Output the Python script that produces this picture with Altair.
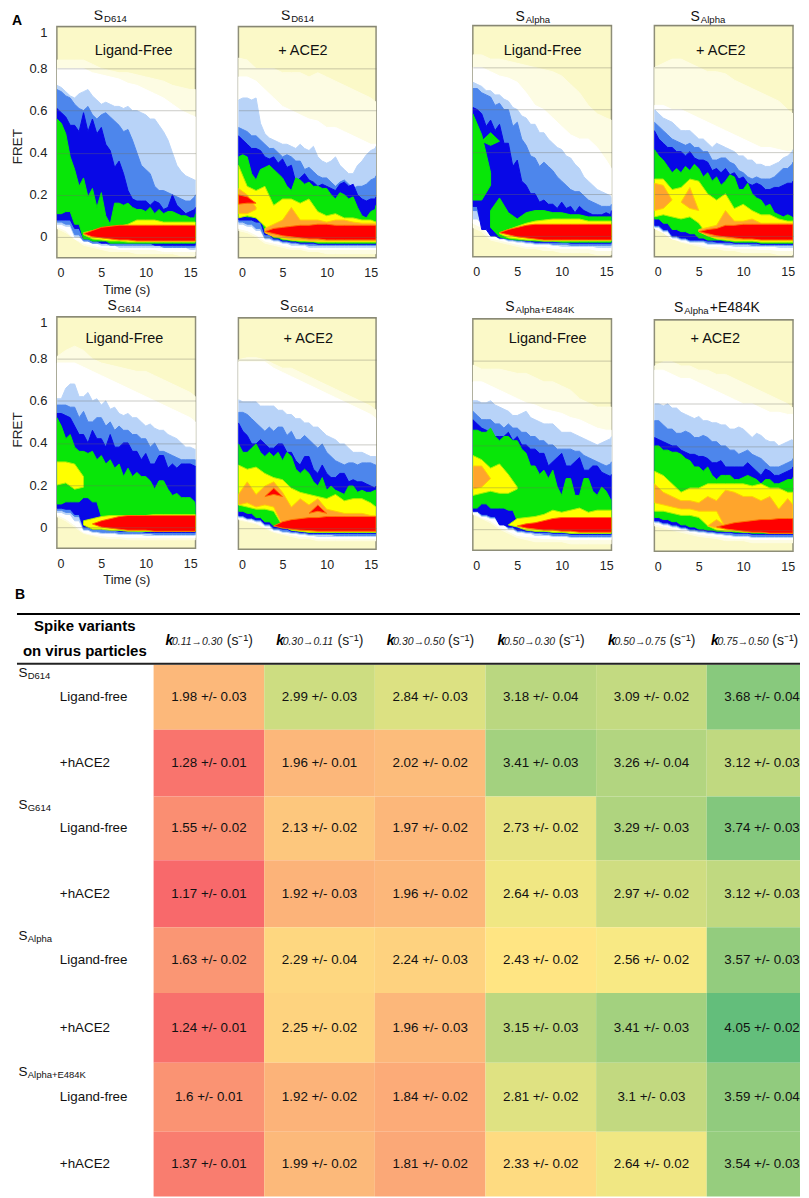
import altair as alt
import pandas as pd

FONT = "Liberation Sans"
T = [0, 1, 2, 3, 4, 5, 6, 7, 8, 9, 10, 11, 12, 13, 14, 15, 15.6]
T2 = [i / 2 for i in range(32)] + [15.6]
LEVELS = ["ivory", "white", "lblue", "mblue", "dblue", "green", "yellow", "orange", "red"]
FILLS = ["#fdfce3", "#ffffff", "#b8d3f8", "#4d86ec", "#0808e6", "#08e608", "#ffff00", "#ffa52c", "#ff0000"]
EDGES = ["#fdfce3", "#ffffff", "#b8d3f8", "#4d86ec", "#0808e6", "#08e608", "#a8f000", "#ffd000", "#ff7000"]

# Contour edges in FRET hundredths: (level, first knot index, upper edge, lower edge)
# Upper edges with 33 values are read every half second.
P1 = [
 ("ivory",0,[84,84,84,84,82,80,79,78,78,77,76,75,74,72,71,70,70],[4,2,-1,-4,-5,-6,-7,-7,-7,-8,-8,-8,-8,-8,-9,-9,-9]),
 ("white",0,[80,80,80,80,78,77,76,75,73,72,70,68,66,63,60,58,57],[5,3,-1,-3,-4,-5,-5,-6,-6,-6,-6,-6,-7,-7,-7,-7,-7]),
 ("lblue",0,[72,71,69,67,66,68,69,70,67,65,63,64,63,62,62,61,62,60,60,59,58,56,56,53,50,46,40,34,31,29,28,27,27],[6,5,0,-2,-3,-4,-4,-5,-5,-5,-5,-5,-5,-5,-5,-6,-6]),
 ("mblue",0,[70,69,67,66,63,61,60,62,58,56,58,59,57,55,53,50,51,46,40,34,32,30,24,22,22,21,20,19,18,17,17,19,20],[7,6,1,-2,-3,-3,-4,-4,-4,-4,-4,-4,-5,-5,-5,-5,-5]),
 ("dblue",0,[61,59,57,53,53,50,59,50,56,49,52,44,41,33,36,30,22,18,17,17,17,15,17,16,13,14,20,15,13,11,12,13,14],[8,8,4,-1,-2,-3,-3,-3,-3,-3,-3,-4,-4,-4,-4,-4,-4]),
 ("green",0,[56,54,49,38,32,24,28,19,23,14,21,10,6,16,16,15,16,14,13,13,12,14,11,13,11,12,12,11,10,10,9,9,11],[11,12,6,-1,-2,-2,-3,-3,-3,-3,-3,-3,-3,-3,-3,-3,-3]),
 ("yellow",3,[2,3,4,5,5,6,8,8,8,7,7,7,7,7],[1,-1,-1.5,-2,-2,-2.5,-2.5,-2.5,-2.5,-2.5,-2.5,-2.5,-2.5,-2.5]),
 ("red",3,[1.5,3,4.5,5,5.5,5.5,5.5,5.5,5.5,5.5,5.5,5.5,5.5,5.5],[1.5,0,-.5,-1,-1.5,-1.5,-2,-2,-2,-2,-2,-2,-2,-2]),
]
P2 = [
 ("ivory",0,[85,84,80,80,80,78,78,78,76,78,76,74,72,70,68,66,64],[3,2,0,-3,-4,-5,-6,-6,-7,-7,-8,-8,-8,-8,-8,-8,-8]),
 ("white",0,[76,76,74,70,66,62,60,58,56,55,52,52,50,48,46,44,44],[4,3,1,-2,-3,-4,-5,-5,-6,-6,-6,-6,-6,-6,-6,-6,-6]),
 ("lblue",0,[65,66,66,65,66,54,49,47,46,45,44,44,43,42,44,42,41,43,38,36,35,36,38,34,32,30,30,34,36,39,41,42,43],[6,5,3,-1,-2,-3,-4,-4,-5,-5,-5,-5,-5,-5,-5,-5,-5]),
 ("mblue",0,[52,51,50,48,48,46,44,42,42,40,38,39,38,36,36,32,33,31,29,28,28,26,24,26,27,25,23,24,24,25,27,28,29],[7,6,4,-.5,-1.5,-2.5,-3,-3.5,-4,-4,-4,-4,-4,-4,-4,-4,-4]),
 ("dblue",0,[48,46,44,42,42,41,38,37,38,35,37,33,34,26,28,30,27,26,24,25,24,23,22,25,26,24,25,20,18,17,18,18,19],[8,8,7,1,-1,-2,-2.5,-3,-3,-3.5,-3.5,-3.5,-3.5,-3.5,-3.5,-3.5,-3.5]),
 ("green",0,[38,39,38,30,27,32,33,34,32,30,28,24,22,28,27,25,26,24,24,23,23,20,18,21,20,18,19,14,10,9,12,13,15],[10,9.5,9,3,-.5,-1.5,-2,-2.5,-2.5,-3,-3,-3,-3,-3,-3,-3,-3]),
 ("yellow",0,[34,24,22,24,15,18,18,16,18,12,10,11,9,9,8,8,7],[9,10,9,5,1,-1,-1.5,-2,-2,-2.5,-2.5,-2.5,-2.5,-2.5,-2.5,-2.5,-2.5]),
 ("orange",0,[23,20,14],[11,11,13]),
 ("orange",3,[4,6,8,14,8,8,8,7,8,8,7,6.5,6.5,6.5],[2,0,-.5,-1.5,-1.5,-2,-2,-2,-2,-2,-2,-2,-2,-2]),
 ("red",0,[20,19,16],[15.5,16,16]),
 ("red",3,[2.5,4,4.5,5,5.5,5.5,6,6,5.5,5.5,5.5,5.5,5.5,5.5],[2.5,1.5,.5,0,-.5,-1,-1,-1.5,-1.5,-1.5,-1.5,-1.5,-1.5,-1.5]),
]
P3 = [
 ("ivory",0,[86,86,84,84,83,82,81,80,79,78,76,72,68,62,58,56,55],[4,2,-2,-3,-4,-5,-6,-6,-7,-7,-8,-8,-8,-8,-9,-9,-9]),
 ("white",0,[80,80,78,76,75,73,68,62,60,56,52,48,46,46,42,36,32],[6,4,-1,-2,-3,-4,-5,-5,-5,-6,-6,-6,-6,-6,-7,-7,-7]),
 ("lblue",0,[73,72,71,69,69,67,67,65,64,61,60,57,56,53,53,49,49,46,44,42,41,38,37,34,32,28,26,24,22,21,20,19,18],[8,6,0,-1.5,-2.5,-3,-3.5,-4,-4,-4.5,-5,-5,-5,-5,-5.5,-5.5,-5.5]),
 ("mblue",0,[70,70,68,67,66,62,63,60,60,52,54,46,43,38,37,33,35,33,31,28,26,24,22,21,21,19,17,16,15,14,14,14,15],[12,5,0,-1.2,-2,-2.5,-3,-3.5,-3.5,-4,-4,-4.5,-4.5,-4.5,-4.5,-4.5,-4.5]),
 ("dblue",0,[61,60,58,52,55,50,53,44,44,33,36,26,24,20,20,16,17,15,15,13,16,13,14,11,14,12,11,10,10,10,11,10,12],[14,3,0,-1,-1.5,-2,-2.5,-3,-3,-3,-3,-3.5,-3.5,-3.5,-3.5,-3.5,-3.5]),
 ("green",0,[58,48,30],[17,17,24]),
 ("green",1,[45,49,45],[45,43,45]),
 ("green",2,[12,18,11,8,11,12,12,11,11,10,10,9,9,9,9],[4,-.5,-1.5,-2,-2,-2.5,-2.5,-2.5,-3,-3,-3,-3,-3,-3,-3]),
 ("yellow",3,[1.5,3,4.5,6,7,7.5,8,8,8,8,7,7,7,7],[1,-1,-1.5,-2,-2,-2.5,-2.5,-2.5,-2.5,-2.5,-2.5,-2.5,-2.5,-2.5]),
 ("red",3,[1.5,3,4,5,5.5,5.5,5.5,5.5,5.5,5.5,5.5,5.5,5.5,5.5],[1.5,.5,-.5,-1,-1.5,-2,-2,-2,-2,-2,-2,-2,-2,-2]),
]
P4 = [
 ("ivory",0,[80,82,84,84,82,80,78,78,77,74,72,70,68,66,64,60,58],[4,2,-1,-3,-4,-5,-6,-6,-7,-7,-8,-8,-8,-8,-9,-9,-9]),
 ("white",0,[62,62,60,60,58,56,54,52,50,48,46,44,42,42,41,40,40],[3.5,1.5,-1.5,-2.5,-3.5,-4,-5,-5,-5.5,-6,-6,-6,-6.5,-6.5,-7,-7,-7]),
 ("lblue",0,[60,58,56,55,54,52,50,50,50,48,46,46,44,42,44,43,42,41,40,38,38,36,36,34,34,33,33,34,35,37,38,40,41],[4,2,-1,-2,-3,-3,-4,-4,-4.5,-5,-5,-5,-5,-5,-5.5,-5.5,-5.5]),
 ("mblue",0,[54,52,50,48,46,45,44,43,44,42,42,40,40,36,36,37,37,35,34,31,30,28,27,28,27,27,27,28,30,32,32,34,35],[4.5,2.5,-.5,-1.5,-2.5,-2.5,-3.5,-3.5,-4,-4,-4,-4.5,-4.5,-4.5,-4.5,-4.5,-4.5]),
 ("dblue",0,[50,46,44,42,42,40,40,38,40,37,36,36,35,31,32,30,32,29,30,27,28,25,24,25,24,22,22,23,23,24,25,25,26],[5,3,0,-1,-2,-2,-2.5,-3,-3,-3.5,-3.5,-3.5,-4,-4,-4,-4,-4]),
 ("green",0,[41,38,36,33,30,32,30,33,31,34,32,28,30,26,28,24,26,29,28,22,22,25,20,18,17,14,15,11,10,9,10,9,8],[8,6,3,2,1,-1,-2,-2,-2.5,-3,-3,-3,-3.5,-3.5,-3.5,-3.5,-3.5]),
 ("yellow",0,[27,27,22,23,27,26,20,17,20,13,15,12,10,10,8,7,7],[9,10,9,8,9,6,0,-1.5,-2,-2.5,-2.5,-2.5,-3,-3,-3,-3,-3]),
 ("orange",0,[25,24,17],[12,13,17]),
 ("orange",3,[16,23,12],[16,13,12]),
 ("orange",5,[3,4,5,12,7,7,8,6,6,6,6,6],[2,0,-1,-1.5,-2,-2,-2,-2,-2,-2,-2,-2]),
 ("red",5,[2,3,3.5,5,5,5.5,5.5,5.5,5.5,5.5,5.5,5.5],[2,1,0,-.5,-1,-1.5,-1.5,-2,-2,-2,-2,-2]),
]
P5 = [
 ("ivory",0,[81,84,86,84,80,78,77,76,75,74,74,72,70,68,66,64,62],[5,3,0,-3,-4,-5,-5.5,-5.5,-6,-6,-6,-6,-6,-6,-6,-6,-6]),
 ("white",0,[78,78,78,76,74,72,70,68,66,64,62,60,58,56,54,52,50],[6,4,1,-2.5,-3.5,-4,-4.5,-4.5,-5,-5,-5,-5,-5,-5,-5,-5,-5]),
 ("lblue",0,[61,61,66,68,68,62,62,64,60,61,58,60,56,57,54,53,54,52,52,50,48,49,47,46,46,44,43,42,40,38,38,37,37],[7,6,3,-1.5,-2.5,-3,-3,-3.5,-3.5,-3.5,-4,-4,-4,-4,-4,-4,-4]),
 ("mblue",0,[58,58,58,57,57,52,55,50,50,52,52,48,50,46,48,46,46,44,44,42,42,38,40,36,36,35,34,33,32,32,32,32,32],[8,7,5,-1,-2,-2.5,-2.5,-3,-3,-3,-3,-3.5,-3.5,-3.5,-3.5,-3.5,-3.5]),
 ("dblue",0,[54,54,53,52,48,44,44,40,46,42,42,38,44,38,38,40,40,36,36,32,35,30,30,34,34,28,30,28,30,30,30,29,29],[9,8.5,6,0,-1,-1,-1.5,-2,-2,-2,-2.5,-2.5,-2.5,-2.5,-2.5,-2.5,-2.5]),
 ("green",0,[52,48,42,44,38,36,36,35,36,32,34,30,32,28,30,24,28,24,26,24,24,22,18,22,22,18,15,16,14,14,14,12,10],[11,12,12,14,12,5,-1,-1.5,-1.5,-2,-2,-2,-2,-2,-2,-2,-2]),
 ("yellow",0,[31,31,30,24],[20,21,18,19]),
 ("yellow",3,[3,4,5,5.5,5.5,5.5,5.5,5.5,6,6,6,6,6,6],[1,-1,-1,-1.5,-1.5,-2,-2,-2,-2,-2,-2,-2,-2,-2]),
 ("red",4,[1.5,3,4,5,5.5,5.5,5.5,5.5,5.5,5.5,5.5,5.5,5.5],[1.5,0,-.5,-1,-1.5,-1.5,-1.5,-2,-2,-2,-2,-2,-2]),
]
P6 = [
 ("ivory",0,[80,81,81,80,78,76,76,74,72,70,68,66,64,62,60,58,56],[4,3,2,0,-2,-3,-4,-5,-5,-6,-6,-6,-6,-6,-6,-6,-6]),
 ("white",0,[79,79,79,79,76,74,72,70,68,66,64,62,60,58,56,54,52],[4.5,3.5,2.5,.5,-1.5,-2.5,-3,-4,-4,-5,-5,-5,-5,-5,-5,-5,-5]),
 ("lblue",0,[61,60,60,60,60,58,58,58,58,56,56,54,54,52,52,50,50,48,48,46,44,43,42,40,40,38,36,36,36,35,34,34,34],[5,4,3,1,-1,-2,-2.5,-3,-3.5,-4,-4,-4,-4,-4,-4,-4,-4]),
 ("mblue",0,[55,55,54,52,50,48,46,48,46,48,48,44,46,42,42,44,42,40,38,40,36,34,32,31,30,31,31,30,31,31,31,30,30],[5.5,4.5,3.5,1.5,-.5,-1.5,-2,-2.5,-3,-3,-3,-3.5,-3.5,-3.5,-3.5,-3.5,-3.5]),
 ("dblue",0,[50,46,44,40,40,42,40,38,38,40,40,36,36,32,30,34,34,28,26,30,26,24,24,26,26,22,23,22,22,21,20,19,20],[6,4.8,4,2,0,-.5,-1.5,-2,-2.5,-2.5,-2.5,-2.5,-2.5,-2.5,-2.5,-2.5,-2.5]),
 ("green",0,[40,36,36,38,40,36,34,36,34,36,32,36,34,28,26,28,26,22,20,24,18,20,18,17,16,20,20,17,18,17,17,18,18],[8,7,5,3,1,0,-1,-1.5,-2,-2,-2,-2,-2,-2,-2,-2,-2]),
 ("yellow",0,[30,28,29,26,24,23,19,17,16,15,14,16,13,14,14,12,10],[11,10,9,9,8,1,-1,-1.5,-2,-2,-2,-2,-2,-2,-2,-2,-2]),
 ("orange",0,[16,22,16,20,22,17,10,14,11,14,9,8,7,7,7,6,6],[11,12,10,11,10,1,-.5,-1,-1.5,-1.5,-1.5,-1.5,-1.5,-1.5,-1.5,-1.5,-1.5]),
 ("red",3,[15,19,15],[15,16,15]),
 ("red",8,[7,11,7],[7,8,7]),
 ("red",4,[1,3,4,4.5,5,5,5.5,5.5,5.5,5.5,5.5,5.5,5.5],[1,0,-.5,-1,-1.2,-1.5,-1.5,-1.5,-1.5,-1.5,-1.5,-1.5,-1.5]),
]
P7 = [
 ("ivory",0,[78,76,76,76,75,74,74,72,70,70,68,66,62,60,58,58,58],[7,5,3,0,-2,-4,-5,-6,-6,-6,-6,-7,-7,-7,-7,-7,-7]),
 ("white",0,[70,70,68,66,64,62,60,59,57,56,55,53,52,50,48,47,47],[7.5,5.5,4,1,-1,-3,-3.5,-4,-4.5,-4.5,-5,-5,-5,-5,-5,-5,-5]),
 ("lblue",0,[61,61,60,60,61,59,58,57,56,54,54,55,56,53,52,51,50,50,50,48,46,46,46,45,44,43,42,41,40,41,42,43,44],[8,6,5,2,0,-1.5,-2,-3,-3,-3.5,-3.5,-4,-4,-4,-4,-4,-4]),
 ("mblue",0,[56,54,52,52,52,50,50,48,50,48,48,46,46,44,44,42,42,40,40,38,38,38,38,37,37,35,34,33,32,31,30,31,32],[8.5,6.5,5.5,2.5,.5,-1,-1.5,-2,-2.5,-3,-3,-3.5,-3.5,-3.5,-3.5,-3.5,-3.5]),
 ("dblue",0,[52,50,48,47,46,44,44,44,46,42,44,40,40,38,38,36,36,30,32,34,36,30,30,32,34,28,28,30,30,27,26,25,26],[8.5,7,6,2,1,-.5,-1,-1.5,-1.5,-2,-2,-2.5,-2.5,-2.5,-2.5,-2.5,-2.5]),
 ("green",0,[47,47,46,46,48,44,42,44,44,42,42,38,36,30,30,26,28,24,28,20,16,24,24,16,16,24,24,18,16,20,18,14,14],[10,12,10,10,9,4,0,-1,-1,-1.5,-1.5,-2,-2,-2,-2,-2,-2]),
 ("yellow",0,[35,33,29,31,26,20],[16,17,18,17,17,19]),
 ("yellow",4,[2,5,5.5,6,7,9,8,9,10,8,9,9,9],[2,1,-.5,-1,-1,-1.5,-1.5,-2,-2,-2,-2,-2,-2]),
 ("orange",0,[30,30,24],[19,20,24]),
 ("red",5,[1.5,2.5,3,4,5,5.5,5.5,5.5,5.5,5.5,5.5,5.5],[1.5,.5,0,-.5,-.5,-1,-1,-1.5,-1.5,-1.5,-1.5,-1.5]),
]
P8 = [
 ("ivory",0,[78,80,80,78,78,76,76,74,74,72,70,68,66,64,62,60,58],[2,1,0,-1,-2,-3,-3.5,-4,-5,-5,-5,-6,-6,-6,-6,-6,-6]),
 ("white",0,[76,76,74,72,72,70,68,66,64,62,60,60,58,56,56,55,55],[3,2,1,0,-1,-2,-2.5,-3,-3.5,-4,-4,-4.5,-4.5,-4.5,-4.5,-4.5,-4.5]),
 ("lblue",0,[60,60,59,60,58,58,56,55,54,53,54,52,52,51,51,50,50,48,48,49,48,46,44,46,45,43,42,42,40,41,42,43,42],[3.5,2.5,1.5,.5,-.5,-1,-1.5,-2,-2.5,-3,-3,-3.5,-3.5,-3.5,-3.5,-3.5,-3.5]),
 ("mblue",0,[52,52,50,48,48,46,46,47,46,44,44,45,44,42,42,40,40,38,38,36,37,38,36,35,34,32,30,30,30,31,32,33,34],[4,3,2,1,0,-.5,-1,-1.5,-2,-2.5,-2.5,-3,-3,-3,-3,-3,-3]),
 ("dblue",0,[44,43,42,41,40,40,38,37,36,36,35,35,34,32,32,33,30,30,30,30,30,32,30,28,26,29,28,26,26,27,28,29,30],[4.5,3.5,2.5,1.5,.5,0,-.5,-1,-1,-1.5,-1.5,-2,-2,-2,-2,-2,-2]),
 ("green",0,[40,40,38,38,37,37,36,34,33,30,30,28,30,26,24,26,26,26,24,24,25,26,25,24,22,24,24,22,22,23,24,24,25],[6,5,4,2.5,1.5,.5,0,-.5,-.5,-1,-1,-1.5,-1.5,-1.5,-1.5,-1.5,-1.5]),
 ("yellow",0,[28,26,22,18,20,20,22,22,22,22,22,21,22,20,20,18,18],[9,9,8,7,7,6,2,0,-.5,-.5,-1,-1,-1,-1.5,-1.5,-1.5,-1.5]),
 ("orange",0,[22,18,16,14,14,13,16,14,19,18,16,16,14,16,10,15,12],[13,12,11,10,10,9,9,9,1,0,-.5,-.5,-.5,-1,-1,-1,-1]),
 ("orange",6,[2,5,2],[2,1,.5]),
 ("red",7,[1.5,2.5,3.5,4,4.5,5,5,5.5,5.5,5.5],[1.5,.5,0,-.5,-1,-1,-1.5,-1.5,-1.5,-1.5]),
]

PANEL_DATA = [P1, P2, P3, P4, P5, P6, P7, P8]
COND = ["Ligand-Free", "+ ACE2"] * 4
SUBS = ["D614", "D614", "Alpha", "Alpha", "G614", "G614", "Alpha+E484K", "Alpha"]
TAILS = ["", "", "", "", "", "", "", "+E484K"]

# Table B
COLS = ["0.11\u21920.30", "0.30\u21920.11", "0.30\u21920.50", "0.50\u21920.30", "0.50\u21920.75", "0.75\u21920.50"]
RATES = [
 ["1.98","2.99","2.84","3.18","3.09","3.68"],
 ["1.28","1.96","2.02","3.41","3.26","3.12"],
 ["1.55","2.13","1.97","2.73","3.29","3.74"],
 ["1.17","1.92","1.96","2.64","2.97","3.12"],
 ["1.63","2.29","2.24","2.43","2.56","3.57"],
 ["1.24","2.25","1.96","3.15","3.41","4.05"],
 ["1.6","1.92","1.84","2.81","3.1","3.59"],
 ["1.37","1.99","1.81","2.33","2.64","3.54"],
]
ERRS = [
 ["0.03","0.03","0.03","0.04","0.02","0.04"],
 ["0.01","0.01","0.02","0.03","0.04","0.03"],
 ["0.02","0.02","0.02","0.02","0.03","0.03"],
 ["0.01","0.03","0.02","0.03","0.02","0.03"],
 ["0.02","0.04","0.03","0.02","0.02","0.03"],
 ["0.01","0.02","0.03","0.03","0.03","0.02"],
 ["0.01","0.02","0.02","0.02","0.03","0.04"],
 ["0.01","0.02","0.02","0.02","0.02","0.03"],
]
ROW_NAMES = ["Ligand-free", "+hACE2"] * 4
GROUPS = ["D614", "G614", "Alpha", "Alpha+E484K"]
ROW_EDGES = [51, 116, 183, 247, 314, 380, 450, 519, 584]
GROUP_BASE = [63, 196, 327, 463]

PH = 232


def spacer(w, h):
    return (alt.Chart(pd.DataFrame({"a": [0]})).mark_point(opacity=0, size=0.01, strokeWidth=0, filled=True)
            .encode(x=alt.value(0), y=alt.value(0))
            .properties(width=w, height=h, view=alt.ViewConfig(stroke=None)))


def ltext(text, x, y, size=13, weight="normal", style="normal", align="left", baseline="alphabetic", color="#111", clip=False):
    return (alt.Chart(pd.DataFrame({"label": [text]}))
            .mark_text(font=FONT, fontSize=size, fontWeight=weight, fontStyle=style,
                       align=align, baseline=baseline, color=color, clip=clip)
            .encode(x=alt.value(x), y=alt.value(y), text="label:N"))


TITLE_POS = [(37, -6), (42.6, -6), (42.7, -4.5), (36.3, -4), (50.7, -6.7), (41.6, -7.7), (32.6, -7.7), (19.6, -7.3)]
COND_POS = [(77, 25), (64.6, 25), (70, 26), (66.6, 26), (67.7, 22.3), (70, 21.3), (75, 20.3), (61, 19)]
FRET_Y = {0: 120, 4: 113}


def title_band(i, w, pad):
    # first-row titles sit in the band above the panel, clipped to it
    tx, ty = TITLE_POS[i]
    return alt.layer(
        ltext("S", tx, pad + ty, 14, clip=True),
        ltext(SUBS[i], tx + 10.3, pad + ty + 2, 9.6, clip=True),
    ).properties(width=w, height=pad, view=alt.ViewConfig(stroke=None))


def panel(i, width, left=False, bottom_title=False):
    rows = []
    for b, (lev, start, tops, bots) in enumerate(PANEL_DATA[i]):
        if len(tops) == 33:
            for k, t in enumerate(T2):
                low = bots[16] if k == 32 else bots[k // 2]
                rows.append({"t": t, "top": tops[k] / 100, "bot": low / 100, "level": lev, "blob": b})
        else:
            for k, (a, c) in enumerate(zip(tops, bots)):
                rows.append({"t": T[start + k], "top": a / 100, "bot": c / 100, "level": lev, "blob": b})
    df = pd.DataFrame(rows)
    xaxis = alt.Axis(values=[0, 5, 10, 15], grid=False, ticks=False, domain=False, labelFont=FONT,
                     labelFontSize=12.5, labelColor="#222", labelPadding=9, labelAngle=0,
                     title="Time (s)" if bottom_title else None, titleFont=FONT, titleFontSize=13,
                     titleFontWeight="normal", titleColor="#222", titlePadding=4)
    yaxis = alt.Axis(values=[0, .2, .4, .6, .8, 1], grid=True, gridColor="#6e6e5e", gridOpacity=.45, gridWidth=.8,
                     ticks=False, domain=False, labels=left, labelFont=FONT, labelFontSize=13, labelColor="#222",
                     labelFlush=True, labelPadding=10, format=".1~f", zindex=1,
                     title="FRET" if left else None, titleFont=FONT, titleFontSize=13.5, titleFontWeight="normal",
                     titleColor="#222", titleX=-32, titleY=FRET_Y.get(i, 118))
    area = (alt.Chart(df).mark_area(strokeWidth=1, clip=True).encode(
        x=alt.X("t:Q", scale=alt.Scale(domain=[0, 15.6], nice=False, zero=False), axis=xaxis),
        y=alt.Y("top:Q", scale=alt.Scale(domain=[-.1, 1], nice=False, zero=False), axis=yaxis),
        y2="bot:Q",
        color=alt.Color("level:N", scale=alt.Scale(domain=LEVELS, range=FILLS), legend=None),
        stroke=alt.Stroke("level:N", scale=alt.Scale(domain=LEVELS, range=EDGES), legend=None),
        detail="blob:N",
    ))
    layers = [area]
    if i >= 4:
        tx, ty = TITLE_POS[i]
        layers += [ltext("S", tx, ty, 14), ltext(SUBS[i], tx + 10.3, ty + 2, 9.6)]
    if TAILS[i]:
        tx, ty = TITLE_POS[i]
        layers.append(ltext(TAILS[i], tx + 36, ty, 14))
    cx, cy = COND_POS[i]
    layers.append(ltext(COND[i], cx, cy, 14.5, align="center", baseline="middle"))
    if i == 0:
        layers.append(ltext("A", -45, -1, 14, weight="bold", color="#000"))
    return alt.layer(*layers).properties(width=width, height=PH,
                                         view=alt.ViewConfig(fill="#fbf9c8", stroke="#8e8e78", strokeWidth=1.5))


def column(i, w, pad, gap, left=False):
    return alt.vconcat(title_band(i, w, pad), panel(i, w, left=left, bottom_title=left), spacer(w, gap),
                       panel(i + 4, w, left=left, bottom_title=left), spacing=0, bounds="flush")


col1 = column(0, 139, 16, 59, left=True)
col2 = column(1, 138, 16, 60)
col3 = column(2, 139, 15, 62)
col4 = column(3, 139, 15, 63)
top = alt.hconcat(spacer(1, 5), col1, spacer(38, 5), col2, spacer(92, 5), col3, spacer(38, 5), col4, spacing=0)

# ---- table ----
TW = 793
XS = alt.Scale(domain=[-1.307, 5.843], nice=False, zero=False, clamp=True)
YS = alt.Scale(domain=[584, 0], nice=False, zero=False)
cells = []
for r, (vals, errs) in enumerate(zip(RATES, ERRS)):
    for c, (v, e) in enumerate(zip(vals, errs)):
        cells.append({"c0": c, "c1": c + 1, "cm": c + .5, "y0": ROW_EDGES[r], "y1": ROW_EDGES[r + 1],
                      "ym": (ROW_EDGES[r] + ROW_EDGES[r + 1]) / 2, "val": float(v), "label": f"{v} +/- {e}"})
cdf = pd.DataFrame(cells)
rect = alt.Chart(cdf).mark_rect().encode(
    x=alt.X("c0:Q", scale=XS, axis=None), x2="c1:Q",
    y=alt.Y("y0:Q", scale=YS, axis=None), y2="y1:Q",
    color=alt.Color("val:Q", legend=None,
                    scale=alt.Scale(domain=[1.17, 2.495, 4.05], range=["#F8696B", "#FFEB84", "#63BE7B"], interpolate="rgb")),
)
ctext = alt.Chart(cdf).mark_text(font=FONT, fontSize=13.4, color="#111").encode(
    x=alt.X("cm:Q", scale=XS, axis=None), y=alt.Y("ym:Q", scale=YS, axis=None), text="label:N")
hdf = pd.DataFrame({"cm": [.5, 1.5, 2.5, 3.5, 4.5, 5.43], "sub": COLS, "k": ["k"] * 6, "s": ["(s\u207b\u00b9)"] * 6, "y": [27.5] * 6})
hy = alt.Y("y:Q", scale=YS, axis=None)
hx = alt.X("cm:Q", scale=XS, axis=None)
hk = alt.Chart(hdf).mark_text(font=FONT, fontSize=14, fontWeight="bold", fontStyle="italic", align="left", dx=-43.5, color="#000").encode(x=hx, y=hy, text="k:N")
hs = alt.Chart(hdf).mark_text(font=FONT, fontSize=10.5, fontStyle="italic", align="left", dx=-37, dy=1, color="#222").encode(x=hx, y=hy, text="sub:N")
hp = alt.Chart(hdf).mark_text(font=FONT, fontSize=14, align="left", dx=18, color="#222").encode(x=hx, y=hy, text="s:N")
rdf = pd.DataFrame({"name": ROW_NAMES, "ym": [(ROW_EDGES[i] + ROW_EDGES[i + 1]) / 2 for i in range(8)]})
rowtxt = alt.Chart(rdf).mark_text(font=FONT, fontSize=13.4, align="left", color="#111").encode(
    x=alt.value(51), y=alt.Y("ym:Q", scale=YS, axis=None), text="name:N")
gdf = pd.DataFrame({"g": GROUPS, "s": ["S"] * 4, "yb": GROUP_BASE})
gs = alt.Chart(gdf).mark_text(font=FONT, fontSize=13.5, align="left", baseline="alphabetic", color="#111").encode(
    x=alt.value(9.5), y=alt.Y("yb:Q", scale=YS, axis=None), text="s:N")
gg = alt.Chart(gdf).mark_text(font=FONT, fontSize=9.5, align="left", baseline="alphabetic", dy=2, color="#111").encode(
    x=alt.value(18.8), y=alt.Y("yb:Q", scale=YS, axis=None), text="g:N")
r1 = alt.Chart(pd.DataFrame({"a": [0]})).mark_rule(color="#000", strokeWidth=2).encode(
    x=alt.value(8), x2=alt.value(TW), y=alt.value(0))
r2 = alt.Chart(pd.DataFrame({"a": [0]})).mark_rule(color="#222", strokeWidth=2).encode(
    x=alt.value(8), x2=alt.value(TW), y=alt.value(50))
table = alt.layer(
    rect, ctext, hk, hs, hp, rowtxt, gs, gg, r1, r2,
    ltext("Spike variants", 76, 12, 15, weight="bold", align="center", baseline="middle", color="#000"),
    ltext("on virus particles", 76, 37, 15, weight="bold", align="center", baseline="middle", color="#000"),
    ltext("B", 6, -15, 14, weight="bold", color="#000"),
).properties(width=TW, height=584, view=alt.ViewConfig(stroke=None))

chart = (alt.vconcat(top, table, spacing=0)
         .properties(padding=0, background="white")
         .resolve_scale(color="independent", stroke="independent", x="independent", y="independent")
         .configure_view(stroke=None)
         .configure_text(font=FONT))
chart.save("out.html", embed_options={"renderer": "svg", "actions": False})
